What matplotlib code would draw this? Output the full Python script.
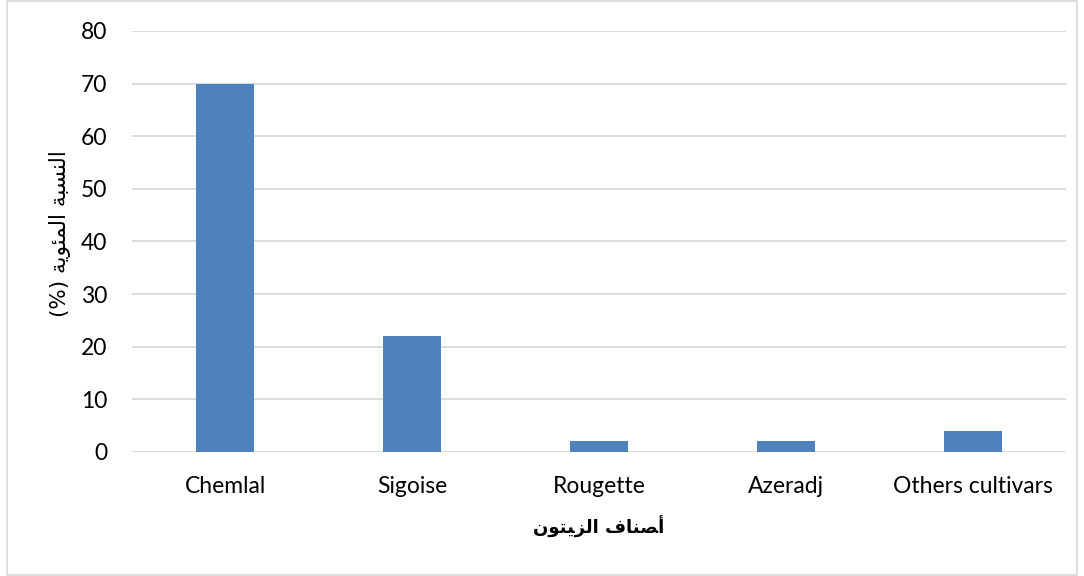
import matplotlib.pyplot as plt
from matplotlib.patches import Rectangle

# data
cultivars = ["Chemlal", "Sigoise", "Rougette", "Azeradj", "Others cultivars"]
percent = [70, 22, 2, 2, 4]
y_ticks = [0, 10, 20, 30, 40, 50, 60, 70, 80]

# arabic labels, pre-shaped (presentation forms, visual order) since matplotlib has no bidi
xlabel_ar = "\uFEE5\uFEEE\uFE98\uFEF4\uFEB0\uFEDF\uFE8D \uFED1\uFE8E\uFEE8\uFEBC\uFE83"
ylabel_ar = "(%) \uFE94\uFEF3\uFEEE\uFE8C\uFEE4\uFEDF\uFE8D \uFE94\uFE92\uFEB4\uFEE8\uFEDF\uFE8D"

plt.rcParams['font.family'] = ['Lato', 'DejaVu Sans']

fig = plt.figure(figsize=(10.84, 5.76), dpi=100)
ax = fig.add_axes([0.1218, 0.2153, 0.8616, 0.7309])

x = range(len(cultivars))
ax.bar(x, percent, width=0.31, color="#4f81bd", zorder=3)

ax.set_xlim(-0.5, len(cultivars) - 0.5)
ax.set_ylim(0, 80)
ax.set_yticks(y_ticks)
ax.set_xticks(list(x))
ax.set_xticklabels(cultivars)
ax.grid(axis='y', color="#d9d9d9", linewidth=1.3, zorder=0)
for s in ax.spines.values():
    s.set_visible(False)
ax.tick_params(axis='both', length=0, labelsize=16.5, colors="black")
ax.tick_params(axis='y', pad=18)
ax.tick_params(axis='x', pad=17)

ax.set_xlabel(xlabel_ar, family='DejaVu Sans', fontweight='bold', fontsize=13)
ax.set_ylabel(ylabel_ar, family='DejaVu Sans', fontsize=15.5)
ax.xaxis.set_label_coords(0.5, -0.178)
ax.yaxis.set_label_coords(-0.077, 0.518)
ax.xaxis.label.set_va('center')
ax.yaxis.label.set_va('center')

# chart area border
fig.patches.append(Rectangle((0.0065, 0.002), 0.987, 0.996, transform=fig.transFigure,
                             fill=False, edgecolor="#d9d9d9", linewidth=1.2))

fig.savefig("out.png", dpi=100)
